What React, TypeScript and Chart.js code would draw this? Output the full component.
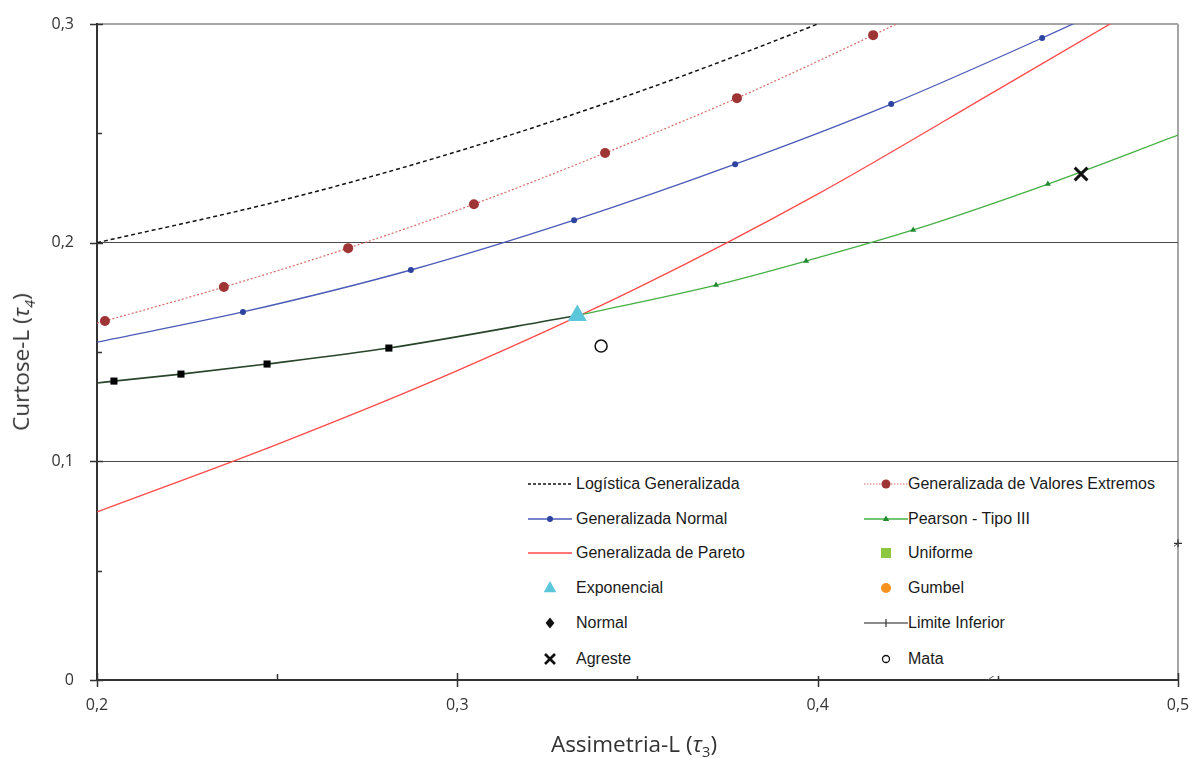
import React, { useEffect, useRef } from 'react';
import { Chart, registerables } from 'chart.js';

Chart.register(...registerables);

// ---- axis ticks ----
const xTickValues = [0.2, 0.3, 0.4, 0.5];
const xTickLabels = ['0,2', '0,3', '0,4', '0,5'];
const yTickValues = [0, 0.1, 0.2, 0.3];
const yTickLabels = ['0', '0,1', '0,2', '0,3'];

// ---- Logística Generalizada ----
const gloX = [0.2, 0.25, 0.3, 0.35, 0.4, 0.42];
const gloY = [0.2, 0.2188, 0.2417, 0.2688, 0.3, 0.3137];

// ---- Generalizada de Valores Extremos ----
const gevX = [0.2, 0.2022, 0.2352, 0.2697, 0.3046, 0.341, 0.3776, 0.4154, 0.43];
const gevY = [0.1632, 0.1642, 0.1797, 0.1975, 0.2176, 0.241, 0.2661, 0.2949, 0.3065];

// ---- Generalizada Normal ----
const gnoX = [0.2, 0.2405, 0.2871, 0.3324, 0.3771, 0.4204, 0.4623, 0.48];
const gnoY = [0.1545, 0.1683, 0.1875, 0.2103, 0.2359, 0.2634, 0.2936, 0.307];

// ---- Generalizada de Pareto ----
const gpaX = [0.2, 0.25, 0.3, 0.35, 0.4, 0.45, 0.5];
const gpaY = [0.0769, 0.1078, 0.1415, 0.1793, 0.2222, 0.27, 0.3182];

// ---- Pearson - Tipo III ----
const pe3X = [0.3333, 0.3718, 0.3968, 0.4265, 0.4639, 0.5];
const pe3Y = [0.1667, 0.1806, 0.1916, 0.2058, 0.2268, 0.2492];

// ---- lower branch (dark line with square markers) ----
const lowX = [0.2, 0.2047, 0.2233, 0.2472, 0.281, 0.3333];
const lowY = [0.1358, 0.1367, 0.1399, 0.1445, 0.1518, 0.1667];

// ---- Limite Inferior ----
const limX = [0.4472, 0.47, 0.5];
const limY = [0, 0.0261, 0.0625];

// ---- single points ----
const expX = [0.3333];
const expY = [0.1667];
const uniX = [0];
const uniY = [0.1667];
const gumX = [0.1699];
const gumY = [0.1504];
const norX = [0];
const norY = [0.1226];
const agrX = [0.4731];
const agrY = [0.2314];
const mataX = [0.3399];
const mataY = [0.1527];

const pts = (xs: number[], ys: number[]) => xs.map((x, i) => ({ x, y: ys[i] }));
const innerOnly = (n: number, r: number) => (ctx: any) =>
  ctx.dataIndex > 0 && ctx.dataIndex < n - 1 ? r : 0;

const near = (a: number, b: number) => Math.abs(a - b) < 1e-6;

const axisTicksPlugin = {
  id: 'axisTicks',
  afterDatasetsDraw(chart: any) {
    const { ctx, scales } = chart;
    const xs = scales.x;
    const ys = scales.y;
    const x0 = xs.left;
    const y0 = ys.bottom;
    ctx.save();
    ctx.strokeStyle = '#333';
    ctx.lineWidth = 1.5;
    ctx.beginPath();
    yTickValues.forEach((v, i) => {
      const p = Math.round(ys.getPixelForValue(v)) + 0.5;
      ctx.moveTo(x0 - 7, p);
      ctx.lineTo(x0 + 6, p);
      if (i < yTickValues.length - 1) {
        const m = Math.round(ys.getPixelForValue((v + yTickValues[i + 1]) / 2)) + 0.5;
        ctx.moveTo(x0, m);
        ctx.lineTo(x0 + 5, m);
      }
    });
    xTickValues.forEach((v, i) => {
      const p = Math.round(xs.getPixelForValue(v)) + 0.5;
      ctx.moveTo(p, y0 - 7);
      ctx.lineTo(p, y0 + 7);
      if (i < xTickValues.length - 1) {
        const m = Math.round(xs.getPixelForValue((v + xTickValues[i + 1]) / 2)) + 0.5;
        ctx.moveTo(m, y0);
        ctx.lineTo(m, y0 - 6);
      }
    });
    ctx.stroke();
    ctx.restore();
  },
};

type LegendItem = {
  label: string;
  col: number;
  row: number;
  line?: { color: string; dash?: string; width: number };
  marker?: { shape: string; color: string; size: number; fill?: string };
};

const legendItems: LegendItem[] = [
  { label: 'Logística Generalizada', col: 0, row: 0, line: { color: '#111', dash: '3 2', width: 1.5 } },
  { label: 'Generalizada Normal', col: 0, row: 1, line: { color: '#4a5ab8', width: 1.3 }, marker: { shape: 'circle', color: '#2c44a0', size: 3 } },
  { label: 'Generalizada de Pareto', col: 0, row: 2, line: { color: '#ff4a4a', width: 1.3 } },
  { label: 'Exponencial', col: 0, row: 3, marker: { shape: 'triangle', color: '#5cc6da', size: 7 } },
  { label: 'Normal', col: 0, row: 4, marker: { shape: 'diamond', color: '#111', size: 5.5 } },
  { label: 'Agreste', col: 0, row: 5, marker: { shape: 'x', color: '#111', size: 5 } },
  { label: 'Generalizada de Valores Extremos', col: 1, row: 0, line: { color: '#d46a6a', dash: '1.5 1.5', width: 1.2 }, marker: { shape: 'circle', color: '#9e3434', size: 4.5 } },
  { label: 'Pearson - Tipo III', col: 1, row: 1, line: { color: '#45b045', width: 1.3 }, marker: { shape: 'triangle', color: '#1f8a2e', size: 3.5 } },
  { label: 'Uniforme', col: 1, row: 2, marker: { shape: 'square', color: '#8dc63f', size: 5 } },
  { label: 'Gumbel', col: 1, row: 3, marker: { shape: 'circle', color: '#f7931e', size: 5 } },
  { label: 'Limite Inferior', col: 1, row: 4, line: { color: '#666', width: 1.3 }, marker: { shape: 'plus', color: '#333', size: 4 } },
  { label: 'Mata', col: 1, row: 5, marker: { shape: 'circle', color: '#111', size: 3.5, fill: '#fff' } },
];

const rowY = [484, 519, 553, 588, 623, 659];
const colSampleX = [526, 862];
const colTextX = [576, 908];

function Marker({ m }: { m: NonNullable<LegendItem['marker']> }) {
  const cx = 24;
  const cy = 10;
  const s = m.size;
  switch (m.shape) {
    case 'circle':
      return <circle cx={cx} cy={cy} r={s} fill={m.fill || m.color} stroke={m.color} strokeWidth={m.fill ? 1.3 : 0} />;
    case 'triangle':
      return <polygon points={`${cx},${cy - s} ${cx + s * 0.9},${cy + s * 0.6} ${cx - s * 0.9},${cy + s * 0.6}`} fill={m.color} />;
    case 'diamond':
      return <polygon points={`${cx},${cy - s} ${cx + s * 0.8},${cy} ${cx},${cy + s} ${cx - s * 0.8},${cy}`} fill={m.color} />;
    case 'square':
      return <rect x={cx - s} y={cy - s} width={2 * s} height={2 * s} fill={m.color} />;
    case 'x':
      return (
        <g stroke={m.color} strokeWidth={2.6}>
          <line x1={cx - s} y1={cy - s} x2={cx + s} y2={cy + s} />
          <line x1={cx - s} y1={cy + s} x2={cx + s} y2={cy - s} />
        </g>
      );
    case 'plus':
      return (
        <g stroke={m.color} strokeWidth={1.2}>
          <line x1={cx} y1={cy - s} x2={cx} y2={cy + s} />
        </g>
      );
    default:
      return null;
  }
}

export default function App() {
  const canvasRef = useRef<HTMLCanvasElement | null>(null);

  useEffect(() => {
    if (!canvasRef.current) return;
    const chart = new Chart(canvasRef.current, {
      type: 'scatter',
      data: {
        datasets: [
          {
            label: 'Agreste',
            data: pts(agrX, agrY),
            pointStyle: 'crossRot',
            pointRadius: 9,
            borderColor: '#111',
            backgroundColor: '#111',
            pointBorderWidth: 3,
          },
          {
            label: 'Exponencial',
            data: pts(expX, expY),
            pointStyle: 'triangle',
            pointRadius: 11,
            borderColor: '#5cc6da',
            backgroundColor: '#5cc6da',
            pointBorderWidth: 0,
          },
          {
            label: 'Mata',
            data: pts(mataX, mataY),
            pointStyle: 'circle',
            pointRadius: 6,
            borderColor: '#111',
            backgroundColor: '#fff',
            pointBorderWidth: 1.5,
          },
          {
            label: 'Uniforme',
            data: pts(uniX, uniY),
            pointStyle: 'rect',
            pointRadius: 6,
            borderColor: '#8dc63f',
            backgroundColor: '#8dc63f',
          },
          {
            label: 'Gumbel',
            data: pts(gumX, gumY),
            pointStyle: 'circle',
            pointRadius: 5,
            borderColor: '#f7931e',
            backgroundColor: '#f7931e',
          },
          {
            label: 'Normal',
            data: pts(norX, norY),
            pointStyle: 'rectRot',
            pointRadius: 5,
            borderColor: '#111',
            backgroundColor: '#111',
          },
          {
            label: 'Limite Inferior',
            data: pts(limX, limY),
            showLine: true,
            borderColor: '#555',
            borderWidth: 1,
            pointStyle: 'cross',
            pointRadius: (ctx: any) => (ctx.dataIndex === limX.length - 1 ? 4 : 0),
            pointBorderWidth: 1.2,
            pointBorderColor: '#333',
            clip: 8,
          },
          {
            label: 'Generalizada de Valores Extremos',
            data: pts(gevX, gevY),
            showLine: true,
            borderColor: '#d46a6a',
            borderWidth: 1.2,
            borderDash: [2, 2],
            cubicInterpolationMode: 'monotone',
            pointStyle: 'circle',
            pointRadius: innerOnly(gevX.length, 5),
            pointBackgroundColor: '#9e3434',
            pointBorderColor: '#9e3434',
            pointBorderWidth: 0,
          },
          {
            label: 'Generalizada Normal',
            data: pts(gnoX, gnoY),
            showLine: true,
            borderColor: '#4a5ab8',
            borderWidth: 1.3,
            cubicInterpolationMode: 'monotone',
            pointStyle: 'circle',
            pointRadius: innerOnly(gnoX.length, 3),
            pointBackgroundColor: '#2c44a0',
            pointBorderColor: '#2c44a0',
            pointBorderWidth: 0,
          },
          {
            label: 'Pearson - Tipo III',
            data: pts(pe3X, pe3Y),
            showLine: true,
            borderColor: '#45b045',
            borderWidth: 1.3,
            cubicInterpolationMode: 'monotone',
            pointStyle: 'triangle',
            pointRadius: innerOnly(pe3X.length, 3.5),
            pointBackgroundColor: '#1f8a2e',
            pointBorderColor: '#1f8a2e',
            pointBorderWidth: 0,
          },
          {
            label: 'Pearson - Tipo III (inferior)',
            data: pts(lowX, lowY),
            showLine: true,
            borderColor: '#28452a',
            borderWidth: 1.6,
            cubicInterpolationMode: 'monotone',
            pointStyle: 'rect',
            pointRadius: innerOnly(lowX.length, 5),
            pointBackgroundColor: '#000',
            pointBorderColor: '#000',
            pointBorderWidth: 0,
          },
          {
            label: 'Generalizada de Pareto',
            data: pts(gpaX, gpaY),
            showLine: true,
            borderColor: '#ff4a4a',
            borderWidth: 1.3,
            cubicInterpolationMode: 'monotone',
            pointRadius: 0,
          },
          {
            label: 'Logística Generalizada',
            data: pts(gloX, gloY),
            showLine: true,
            borderColor: '#111',
            borderWidth: 1.5,
            borderDash: [4, 3],
            cubicInterpolationMode: 'monotone',
            pointRadius: 0,
          },
        ] as any,
      },
      plugins: [axisTicksPlugin],
      options: {
        animation: false,
        responsive: false,
        events: [],
        layout: { padding: { left: 0, right: 15, top: 24, bottom: 0 } },
        plugins: {
          legend: { display: false },
          tooltip: { enabled: false },
        },
        scales: {
          x: {
            type: 'linear',
            min: 0.2,
            max: 0.5,
            afterFit: (s: any) => {
              s.height = 78;
            },
            ticks: {
              stepSize: 0.05,
              autoSkip: false,
              maxRotation: 0,
              padding: 3,
              color: '#333',
              font: { family: '"Open Sans", sans-serif', size: 16 },
              callback: (v: any) => {
                const i = xTickValues.findIndex((t) => near(t, Number(v)));
                return i >= 0 ? xTickLabels[i] : '';
              },
            },
            grid: {
              drawTicks: true,
              tickLength: 13,
              tickColor: 'rgba(0,0,0,0)',
              color: (ctx: any) => (ctx.tick && near(ctx.tick.value, 0.5) ? '#a6a6a6' : 'rgba(0,0,0,0)'),
              lineWidth: (ctx: any) => (ctx.tick && near(ctx.tick.value, 0.5) ? 2 : 1),
            },
            border: { display: true, color: '#333', width: 2 },
          },
          y: {
            type: 'linear',
            min: 0,
            max: 0.3,
            afterFit: (s: any) => {
              s.width = 97;
            },
            ticks: {
              stepSize: 0.05,
              autoSkip: false,
              padding: 3,
              color: '#333',
              font: { family: '"Open Sans", sans-serif', size: 16 },
              callback: (v: any) => {
                const i = yTickValues.findIndex((t) => near(t, Number(v)));
                return i >= 0 ? yTickLabels[i] : '';
              },
            },
            grid: {
              drawTicks: true,
              tickLength: 20,
              tickColor: 'rgba(0,0,0,0)',
              color: (ctx: any) => {
                const v = ctx.tick ? ctx.tick.value : -1;
                if (near(v, 0.3)) return '#a6a6a6';
                if (near(v, 0.1) || near(v, 0.2)) return '#4a4a4a';
                return 'rgba(0,0,0,0)';
              },
              lineWidth: (ctx: any) => (ctx.tick && near(ctx.tick.value, 0.3) ? 2 : 1),
            },
            border: { display: true, color: '#333', width: 2 },
          },
        },
      } as any,
    });
    return () => chart.destroy();
  }, []);

  return (
    <div style={{ position: 'fixed', left: 0, top: 0, width: 1193, height: 758, background: '#fff', overflow: 'hidden' }}>
      <canvas ref={canvasRef} width={1193} height={758} style={{ position: 'absolute', left: 0, top: 0 }} />
      {/* legend box */}
      <div style={{ position: 'absolute', left: 505, top: 464, width: 669, height: 212, background: '#fff' }} />
      {legendItems.map((it) => (
        <React.Fragment key={it.label}>
          <svg
            width={48}
            height={20}
            style={{ position: 'absolute', left: colSampleX[it.col], top: rowY[it.row] - 10, overflow: 'visible' }}
          >
            {it.line && (
              <line x1={2} y1={10} x2={46} y2={10} stroke={it.line.color} strokeWidth={it.line.width} strokeDasharray={it.line.dash} />
            )}
            {it.marker && <Marker m={it.marker} />}
          </svg>
          <div
            style={{
              position: 'absolute',
              left: colTextX[it.col],
              top: rowY[it.row],
              transform: 'translateY(-50%)',
              fontFamily: '"Liberation Sans", Arial, sans-serif',
              fontSize: 16,
              color: '#1a1a1a',
              whiteSpace: 'nowrap',
              lineHeight: 1,
            }}
          >
            {it.label}
          </div>
        </React.Fragment>
      ))}
      {/* axis titles */}
      <div
        style={{
          position: 'absolute',
          left: 634,
          top: 746,
          transform: 'translate(-50%, -50%)',
          fontFamily: '"Open Sans", sans-serif',
          fontSize: 22.5,
          color: '#333',
          whiteSpace: 'nowrap',
          lineHeight: 1,
        }}
      >
        Assimetria-L (<i>τ</i>
        <sub style={{ fontSize: '0.65em' }}>3</sub>)
      </div>
      <div
        style={{
          position: 'absolute',
          left: 23,
          top: 362,
          transform: 'translate(-50%, -50%) rotate(-90deg)',
          fontFamily: '"Open Sans", sans-serif',
          fontSize: 22.5,
          color: '#333',
          whiteSpace: 'nowrap',
          lineHeight: 1,
        }}
      >
        Curtose-L (<i>τ</i>
        <sub style={{ fontSize: '0.65em', fontStyle: 'italic' }}>4</sub>)
      </div>
    </div>
  );
}
